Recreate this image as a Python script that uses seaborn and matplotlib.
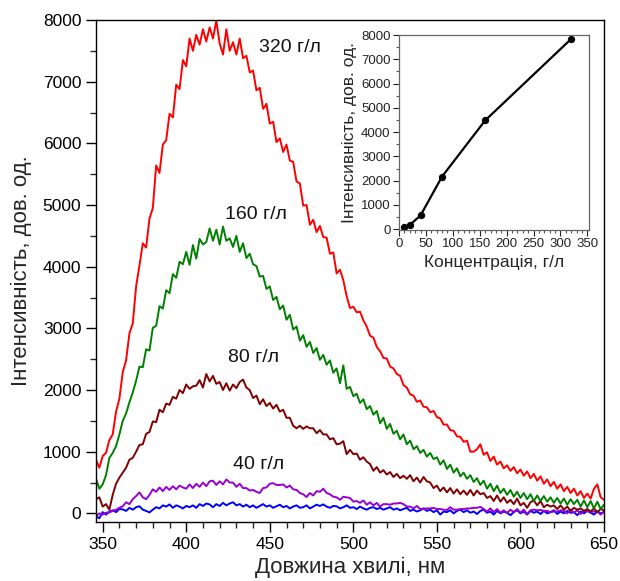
import numpy as np
import pandas as pd
import matplotlib
matplotlib.use("Agg")
import matplotlib.pyplot as plt
from matplotlib.ticker import MultipleLocator
import seaborn as sns

# ---------------- data ----------------
WL_START, WL_STEP = 346, 2   # wavelength grid, nm

I_320 = [870, 740, 930, 980, 1190, 1280, 1650, 1860, 2290, 2480, 2920, 3080, 3680,
         4020, 4380, 4310, 4780, 4950, 5640, 5520, 5980, 6050, 6480, 6420, 6950, 6880, 7350,
         7250, 7700, 7500, 7760, 7600, 7850, 7650, 7880, 7700, 7990, 7620, 7440, 7850, 7500,
         7640, 7440, 7700, 7380, 7420, 7150, 7180, 6860, 6900, 6560, 6640, 6320, 6350, 6020,
         6080, 5860, 5980, 5720, 5700, 5380, 5350, 4990, 5000, 4680, 4760, 4560, 4660, 4480,
         4470, 4210, 4230, 3890, 3950, 3780, 3520, 3330, 3350, 3260, 3270, 3130, 3030, 2880,
         2850, 2700, 2630, 2520, 2510, 2380, 2350, 2260, 2230, 2080, 2040, 1930, 1910, 1810,
         1830, 1730, 1720, 1640, 1660, 1560, 1540, 1440, 1440, 1350, 1340, 1250, 1240, 1160,
         1180, 1000, 1000, 1040, 1120, 950, 990, 850, 920, 790, 840, 730, 780, 690,
         750, 650, 710, 610, 680, 570, 640, 530, 600, 480, 550, 440, 510, 400,
         470, 360, 430, 330, 400, 290, 360, 250, 320, 240, 400, 470, 260, 220]

I_160 = [560, 400, 470, 620, 900, 980, 1090, 1280, 1500, 1620, 1800, 1960, 2150,
         2380, 2370, 2660, 2640, 3010, 3040, 3360, 3320, 3620, 3570, 3880, 3820, 4080, 4040,
         4240, 4030, 4350, 4130, 4450, 4360, 4400, 4620, 4420, 4600, 4360, 4650, 4420, 4460,
         4320, 4500, 4240, 4380, 4140, 4210, 4040, 4010, 3840, 3850, 3640, 3680, 3460, 3510,
         3310, 3370, 3140, 3220, 2980, 3030, 2800, 2890, 2700, 2780, 2600, 2680, 2490, 2570,
         2410, 2480, 2280, 2350, 2110, 2400, 2020, 2050, 1900, 1940, 1790, 1850, 1690, 1740,
         1600, 1660, 1460, 1550, 1370, 1450, 1290, 1340, 1200, 1280, 1120, 1180, 1040, 1090,
         980, 1030, 920, 980, 880, 910, 790, 860, 720, 790, 660, 730, 600, 660,
         560, 620, 510, 570, 460, 530, 400, 480, 360, 450, 330, 400, 300, 380,
         270, 350, 250, 330, 230, 310, 200, 290, 200, 280, 190, 260, 170, 250,
         160, 240, 140, 230, 150, 220, 110, 210, 100, 200, 80, 190, 70, 140]

I_80 = [230, 260, 110, 150, 60, 300, 480, 580, 660, 740, 870, 900, 1000,
        1110, 1120, 1290, 1320, 1490, 1480, 1680, 1640, 1780, 1760, 1890, 1860, 2000, 1950,
        2090, 2020, 2060, 2070, 2160, 2040, 2260, 2140, 2230, 2100, 2130, 2000, 2110, 1990,
        2090, 2030, 2130, 2170, 2040, 2000, 1870, 1910, 1770, 1850, 1740, 1790, 1700, 1760,
        1650, 1680, 1550, 1550, 1420, 1380, 1420, 1370, 1410, 1380, 1380, 1300, 1350, 1280,
        1280, 1200, 1220, 1120, 1130, 1170, 960, 1030, 960, 970, 870, 910, 840, 800,
        690, 750, 660, 700, 630, 670, 590, 640, 570, 610, 560, 620, 520, 580,
        500, 590, 520, 500, 410, 450, 360, 420, 340, 410, 320, 390, 310, 370,
        300, 380, 290, 370, 310, 330, 250, 280, 200, 290, 190, 260, 170, 220,
        150, 240, 130, 170, 90, 180, 210, 130, 200, 100, 140, 110, 130, 70,
        130, 60, 110, 40, 90, 60, 80, 40, 70, 30, 80, 20, 70, 50]

I_40 = [-50, 0, -20, 10, 15, 40, 60, 90, 115, 180, 150, 230, 280,
        340, 260, 230, 300, 390, 350, 420, 360, 430, 380, 440, 390, 450, 420,
        400, 470, 410, 480, 430, 500, 440, 520, 530, 460, 520, 470, 550, 500,
        500, 430, 480, 410, 410, 370, 380, 350, 330, 410, 420, 480, 490, 460,
        460, 470, 420, 450, 390, 380, 330, 310, 265, 330, 290, 360, 350, 400,
        330, 310, 270, 260, 220, 270, 260, 250, 190, 200, 170, 210, 140, 180,
        130, 170, 110, 150, 150, 140, 160, 160, 170, 150, 110, 110, 80, 120,
        70, 75, 80, 80, 90, 70, 70, 60, 55, 100, 60, 60, 70, 70,
        80, 80, 90, 90, 105, 70, 30, 80, 20, 70, 10, 50, 5, 60,
        20, 70, 10, 60, -10, 50, 60, 50, 55, 40, 40, 20, 30, 30,
        50, 40, 0, 60, 10, 50, -10, 40, 40, 20, 30, 30, -20, 30]

I_20 = [-50, -80, 20, -20, 30, 50, 20, 70, 65, 40, 90, 60, 100,
        115, 60, 40, 15, 60, 100, 80, 130, 110, 145, 90, 130, 110, 80,
        120, 100, 130, 90, 150, 120, 160, 145, 100, 150, 120, 170, 130, 160,
        180, 130, 150, 110, 140, 100, 130, 90, 120, 150, 110, 130, 90, 115,
        140, 100, 120, 80, 110, 130, 90, 100, 130, 80, 110, 140, 120, 145,
        110, 90, 120, 115, 80, 100, 130, 90, 100, 70, 110, 80, 60, 90,
        100, 70, 90, 60, 80, 100, 60, 80, 50, 70, 90, 40, 60, 30,
        50, 80, 40, 60, 20, 50, -20, 30, 20, 50, 0, 40, 60, 20,
        50, 10, 30, -10, 40, 60, 10, 30, -20, 40, 0, 30, 10, -30,
        20, 50, 0, 30, -20, 40, 10, 30, -10, 40, 0, 20, 50, -10,
        30, 0, 40, 10, 20, -30, 30, 0, 40, 10, -20, 30, 0, 20]

SERIES = [("320 г/л", I_320, "#ff0000"),
          ("160 г/л", I_160, "#008000"),
          ("80 г/л", I_80, "#800000"),
          ("40 г/л", I_40, "#9a00d0"),
          ("20 г/л", I_20, "#0000ff")]

# inset: peak intensity vs concentration
CONC = [10, 20, 40, 80, 160, 320]
PEAK = [100, 175, 570, 2170, 4480, 7840]

# curve labels (text, wavelength, intensity)
LABELS = [("320 г/л", 462, 7560), ("160 г/л", 442, 4840),
          ("80 г/л", 440, 2520), ("40 г/л", 443, 790)]

# ---------------- figure ----------------
sns.set_theme(style="ticks")
plt.rcParams["font.family"] = ["Liberation Sans", "DejaVu Sans"]
plt.rcParams["axes.linewidth"] = 1.0

fig = plt.figure(figsize=(6.2, 5.81), dpi=100)
ax = fig.add_axes([96 / 620, (581 - 522) / 581, (604 - 96) / 620, (522 - 20) / 581])

rows = []
for name, vals, col in SERIES:
    wl = WL_START + WL_STEP * np.arange(len(vals))
    rows.append(pd.DataFrame({"wl": wl, "I": vals, "c": name}))
df = pd.concat(rows, ignore_index=True)

palette = {name: col for name, _, col in SERIES}
order = [s[0] for s in SERIES][::-1]
sns.lineplot(data=df, x="wl", y="I", hue="c", palette=palette, hue_order=order,
             estimator=None, sort=False, linewidth=1.4, legend=False, ax=ax)

ax.set_xlim(346, 650)
ax.set_ylim(-140, 8000)
ax.xaxis.set_major_locator(MultipleLocator(50))
ax.xaxis.set_minor_locator(MultipleLocator(10))
ax.yaxis.set_major_locator(MultipleLocator(1000))
ax.yaxis.set_minor_locator(MultipleLocator(500))
ax.tick_params(which="major", direction="out", length=7, width=1, labelsize=12.5,
               colors="black")
ax.tick_params(which="minor", direction="out", length=4, width=1)
for s in ax.spines.values():
    s.set_visible(True)
    s.set_color("black")
ax.set_xlabel("Довжина хвилі, нм", fontsize=16, labelpad=4)
ax.set_ylabel("Інтенсивність, дов. од.", fontsize=16, labelpad=8)
ax.grid(False)

for txt, x, y in LABELS:
    ax.text(x, y, txt, ha="center", va="center", fontsize=14, color="#111111")

# ---------------- inset ----------------
ins = fig.add_axes([399 / 620, (581 - 230) / 581, 190 / 620, 195 / 581])
ins_df = pd.DataFrame({"conc": CONC, "peak": PEAK})
sns.lineplot(data=ins_df, x="conc", y="peak", color="black", linewidth=1.6,
             marker="o", markersize=4.5, markeredgecolor="black", ax=ins)
ins.set_xlim(0, 353)
ins.set_ylim(-30, 8000)
ins.xaxis.set_major_locator(MultipleLocator(50))
ins.xaxis.set_minor_locator(MultipleLocator(10))
ins.yaxis.set_major_locator(MultipleLocator(1000))
ins.yaxis.set_minor_locator(MultipleLocator(500))
ins.tick_params(which="major", direction="out", length=4, width=0.8, labelsize=9.5,
                pad=2, colors="#222222")
ins.tick_params(which="minor", direction="out", length=2, width=0.8, color="#555555")
for s in ins.spines.values():
    s.set_visible(True)
    s.set_color("#666666")
    s.set_linewidth(0.9)
ins.set_xlabel("Концентрація, г/л", fontsize=12.5, labelpad=3)
ins.set_ylabel("Інтенсивність, дов. од.", fontsize=12.5, labelpad=3)
ins.grid(False)

fig.savefig("out.png", dpi=100)
